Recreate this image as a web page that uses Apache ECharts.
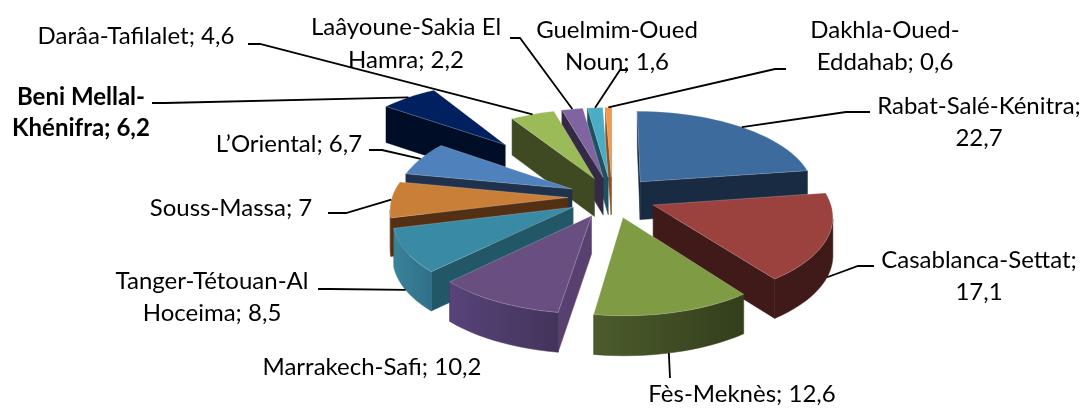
<!DOCTYPE html>
<html><head><meta charset="utf-8">
<style>html,body{margin:0;padding:0;background:#fff}#c{width:1086px;height:410px}</style>
<script src="https://cdn.jsdelivr.net/npm/echarts@6/dist/echarts.min.js"></script>
</head><body><div id="c"></div>
<script>
const categories = ["Rabat-Salé-Kénitra","Casablanca-Settat","Fès-Meknès","Marrakech-Safi","Tanger-Tétouan-Al Hoceima","Souss-Massa","L’Oriental","Beni Mellal-Khénifra","Darâa-Tafilalet","Laâyoune-Sakia El Hamra","Guelmim-Oued Noun","Dakhla-Oued-Eddahab"];
const values = [22.7,17.1,12.6,10.2,8.5,7,6.7,6.2,4.6,2.2,1.6,0.6];
const explode = [.25,.25,.25,.25,.25,.25,.25,.95,.25,.25,.25,.25];
const topColors = ["#3e6b9d","#9b423f","#7f9c45","#694e82","#398aa5","#c97f37","#4f81bd","#002060","#9bbb59","#8064a2","#4bacc6","#f79646"];
const wallColors = ["#182b42","#401a18","#333e1c","#58416f","#225767","#532f13","#1f314c","#000d26","#3f4a23","#352a45","#1f5260","#8a5224"];
const arcLeft = ["#182b42","#401a18","#4c5c2c","#57437a","#3a8399","#8a5424","#1f314c","#000d26","#3f4a23","#352a45","#1f5260","#8a5224"];
const arcRight = ["#182b42","#401a18","#333e1c","#43345a","#2f7088","#6a3e18","#1f314c","#000d26","#3f4a23","#352a45","#1f5260","#8a5224"];
const labelLines = [["Rabat-Salé-Kénitra;","22,7"],["Casablanca-Settat;","17,1"],["Fès-Meknès; 12,6"],["Marrakech-Safi; 10,2"],["Tanger-Tétouan-Al","Hoceima; 8,5"],["Souss-Massa; 7"],["L’Oriental; 6,7"],["Beni Mellal-","Khénifra; 6,2"],["Darâa-Tafilalet; 4,6"],["Laâyoune-Sakia El","Hamra; 2,2"],["Guelmim-Oued","Noun; 1,6"],["Dakhla-Oued-","Eddahab; 0,6"]];
const boldLabel = [false,false,false,false,false,false,false,true,false,false,false,false];

// label layout: centre x, first-line y, line gap
const labelPos = [[979,106,32],[979,260,32],[742,394,0],[372,367,0],[212,281,32],[231,208,0],[289,144,0],[81,97,31],[136,36,0],[406,27,33],[617,30,32],[885,30,32]];
// leader layout: elbow points from label to slice, wall fraction and angle shift at slice end
const leaderPts = [[[870,112],[846,112]],[[874,266],[858,266]],[[670,378]],null,[[318,289],[330,289]],[[328,213],[346,213]],[[369,150],[382,150]],[[152,103],[165,103]],[[248,44],[260,44]],[[510,38],[520,38]],[[628,70],[620,70]],[[786,69],[775,69]]];
const leaderWall = [0,1,1,0,1,0,0,0,0,0,0,0];
const leaderShift = [0,0,1.5,0,0,0,0,0,0,0,0,0];

const CX=612, CY=197, A=176, B=82, K=.115, DEPTH=38;
const total = values.reduce((a,b)=>a+b,0);
const starts = []; let acc=0; values.forEach(v=>{starts.push(acc/total*360);acc+=v;});
const rad = d=>d*Math.PI/180;
function proj(X,Z,h){const s=1/(1-K*Z);return [CX+A*X*s, CY+B*Z*s+(h?h*(DEPTH+1.5*Z):0)];}
function geom(i,v){
  const a0=starts[i],a1=a0+v/total*360,m=(a0+a1)/2,e=explode[i];
  const ox=e*Math.sin(rad(m)),oz=-e*Math.cos(rad(m));
  const pt=(a,r,h)=>proj(ox+r*Math.sin(rad(a)),oz-r*Math.cos(rad(a)),h);
  return {a0,a1,m,ox,oz,pt};
}
const order = values.map((_,i)=>i).sort((p,q)=>{
  const mp=starts[p]+values[p]/total*180, mq=starts[q]+values[q]/total*180;
  return (-Math.cos(rad(mp)))-(-Math.cos(rad(mq)));
});
function renderSlice(params,api){
  const i=api.value(0), v=api.value(1), g=geom(i,v);
  const n=Math.max(2,Math.ceil((g.a1-g.a0)/3));
  const arc=[],arcB=[];
  for(let k=0;k<=n;k++){const a=g.a0+(g.a1-g.a0)*k/n;arc.push(g.pt(a,1,0));arcB.push(g.pt(a,1,1));}
  const apex=g.pt(0,0,0), apexB=g.pt(0,0,1);
  const ch=[];
  const quad=(P,Q,PB,QB)=>({type:'polygon',shape:{points:[P,Q,QB,PB]},style:{fill:wallColors[i],stroke:wallColors[i],lineWidth:.5}});
  if(arc[0][0]<apex[0]) ch.push(quad(apex,arc[0],apexB,arcB[0]));
  if(apex[0]<arc[n][0]) ch.push(quad(arc[n],apex,arcB[n],apexB));
  // visible part of the rim
  let vis=[],visB=[];
  for(let k=0;k<n;k++){ if(arc[k+1][0]<arc[k][0]){ if(!vis.length){vis.push(arc[k]);visB.push(arcB[k]);} vis.push(arc[k+1]);visB.push(arcB[k+1]); } }
  if(vis.length){
    const xs=vis.map(p=>p[0]), x0=Math.min(...xs), x1=Math.max(...xs);
    ch.push({type:'polygon',shape:{points:vis.concat(visB.slice().reverse())},style:{fill:new echarts.graphic.LinearGradient(x0,0,x1,0,[{offset:0,color:arcLeft[i]},{offset:1,color:arcRight[i]}],true),stroke:arcRight[i],lineWidth:.5}});
  }
  ch.push({type:'polygon',shape:{points:[apex].concat(arc)},style:{fill:topColors[i],stroke:'rgba(255,255,255,.35)',lineWidth:.6}});
  return {type:'group',children:ch};
}
function renderLabel(params,api){
  const i=api.value(0), v=api.value(1), g=geom(i,v), ch=[];
  if(leaderPts[i]){
    const end=g.pt(g.m+leaderShift[i],1,leaderWall[i]);
    ch.push({type:'polyline',shape:{points:leaderPts[i].concat([end])},style:{fill:'none',stroke:'#000',lineWidth:1.8}});
  }
  const p=labelPos[i];
  labelLines[i].forEach((t,j)=>ch.push({type:'text',style:{text:t,x:p[0],y:p[1]+j*p[2],align:'center',verticalAlign:'middle',fill:'#000',font:(boldLabel[i]?'bold ':'')+'24px Lato, Carlito, sans-serif'}}));
  return {type:'group',children:ch};
}
const sliceData = order.map(i=>[i,values[i]]);
const labelData = values.map((v,i)=>[i,v]);
const chart=echarts.init(document.getElementById('c'),null,{renderer:'canvas'});
chart.setOption({animation:false,backgroundColor:'#fff',
  series:[
   {type:'custom',coordinateSystem:'none',silent:true,renderItem:renderSlice,data:sliceData,z:1},
   {type:'custom',coordinateSystem:'none',silent:true,renderItem:renderLabel,data:labelData,z:2}
  ]});
</script></body></html>
